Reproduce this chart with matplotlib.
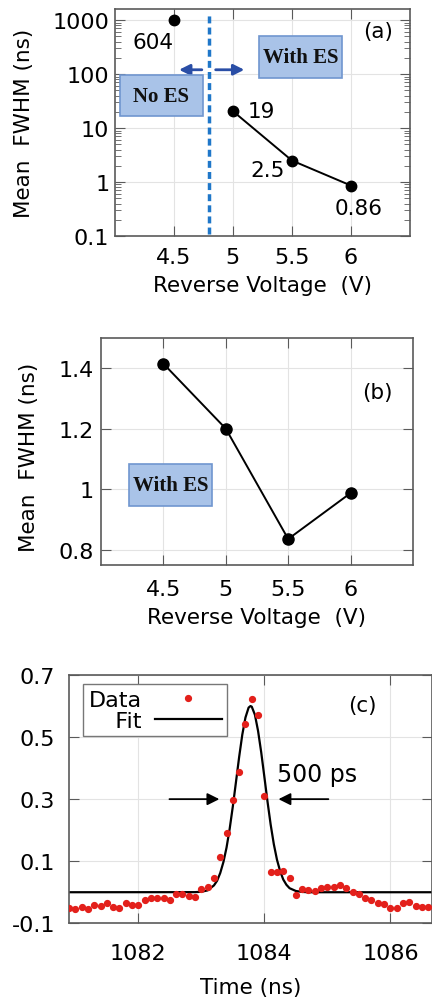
import numpy as np
import matplotlib
matplotlib.use("Agg")
import matplotlib.pyplot as plt
from matplotlib.patches import Rectangle

# panel (a): mean FWHM vs reverse voltage (log axis)
volt_noes = [4.5]
fwhm_noes = [1000]
volt_es = [5.0, 5.5, 6.0]
fwhm_es = [20.5, 2.5, 0.86]
labels_a = ["604", "19", "2.5", "0.86"]

# panel (b): mean FWHM with ES
volt_b = [4.5, 5.0, 5.5, 6.0]
fwhm_b = [1.415, 1.2, 0.835, 0.987]

# panel (c): measured pulse and fit
t_data = [1080.9, 1081.0, 1081.1, 1081.2, 1081.3, 1081.4, 1081.5, 1081.6, 1081.7,
          1081.8, 1081.9, 1082.0, 1082.1, 1082.2, 1082.3, 1082.4, 1082.5, 1082.6,
          1082.7, 1082.8, 1082.9, 1083.0, 1083.1, 1083.2, 1083.3, 1083.4, 1083.5,
          1083.6, 1083.7, 1083.8, 1083.9, 1084.0, 1084.1, 1084.2, 1084.3, 1084.4,
          1084.5, 1084.6, 1084.7, 1084.8, 1084.9, 1085.0, 1085.1, 1085.2, 1085.3,
          1085.4, 1085.5, 1085.6, 1085.7, 1085.8, 1085.9, 1086.0, 1086.1, 1086.2,
          1086.3, 1086.4, 1086.5, 1086.6]
v_data = [-0.052, -0.054, -0.048, -0.054, -0.040, -0.045, -0.034, -0.048, -0.051,
          -0.036, -0.041, -0.041, -0.025, -0.017, -0.017, -0.017, -0.025, -0.005,
          -0.005, -0.011, -0.014, 0.011, 0.018, 0.047, 0.113, 0.192, 0.296,
          0.389, 0.543, 0.622, 0.572, 0.309, 0.066, 0.066, 0.069, 0.047,
          -0.009, 0.011, 0.008, 0.004, 0.013, 0.017, 0.018, 0.024, 0.015,
          0.002, -0.007, -0.019, -0.024, -0.036, -0.038, -0.050, -0.050, -0.034,
          -0.030, -0.043, -0.048, -0.048]
t_fit = [1080.9, 1082.9, 1083.0, 1083.1, 1083.2, 1083.25, 1083.3, 1083.35, 1083.4,
         1083.45, 1083.5, 1083.55, 1083.6, 1083.65, 1083.7, 1083.75, 1083.78, 1083.8,
         1083.85, 1083.9, 1083.95, 1084.0, 1084.05, 1084.1, 1084.15, 1084.2, 1084.25,
         1084.3, 1084.35, 1084.4, 1084.5, 1084.6, 1084.7, 1086.8]
v_fit = [0.0, 0.0003, 0.0015, 0.006, 0.022, 0.037, 0.062, 0.097, 0.144,
         0.205, 0.277, 0.356, 0.436, 0.508, 0.563, 0.595, 0.600, 0.598,
         0.572, 0.520, 0.451, 0.372, 0.292, 0.218, 0.155, 0.105, 0.068,
         0.041, 0.024, 0.013, 0.004, 0.001, 0.0, 0.0]

frame = "#5a5a5a"
box_fc = "#a9c3e8"
box_ec = "#7096cf"
lab_fs = 15.5
tick_fs = 16


def style(ax, pad):
    for s in ax.spines.values():
        s.set_color(frame)
        s.set_linewidth(1.2)
    ax.tick_params(which="both", direction="in", top=True, right=True,
                   color=frame, labelsize=tick_fs, pad=pad)
    ax.tick_params(which="major", length=7)
    ax.tick_params(which="minor", length=4)
    ax.grid(True, which="major", color="#e3e3e3", lw=0.8)
    ax.set_axisbelow(True)


def es_box(ax, x0, y0, w, h, text):
    ax.add_patch(Rectangle((x0, y0), w, h, transform=ax.transAxes,
                           facecolor=box_fc, edgecolor=box_ec, lw=1.2, zorder=3))
    ax.text(x0 + w / 2, y0 + h / 2, text, transform=ax.transAxes,
            ha="center", va="center", fontsize=15, fontweight="bold",
            family="Liberation Serif", color="#111111", zorder=4)


fig = plt.figure(figsize=(4.32, 10.03), dpi=100)

# ---- (a)
ax1 = fig.add_axes([0.266, 0.7637, 0.683, 0.2263])
ax1.set_yscale("log")
ax1.plot(volt_noes, fwhm_noes, "o", color="black", ms=7.5)
ax1.plot(volt_es, fwhm_es, "o-", color="black", ms=7.5, lw=1.4)
ax1.set_xlim(4.0, 6.5)
ax1.set_ylim(0.1, 1600)
ax1.set_xticks([4.5, 5, 5.5, 6])
ax1.set_xticklabels(["4.5", "5", "5.5", "6"])
ax1.set_yticks([0.1, 1, 10, 100, 1000])
ax1.set_yticklabels(["0.1", "1", "10", "100", "1000"])
style(ax1, 4)
ax1.tick_params(axis="x", pad=8)
ax1.axvline(4.8, ymin=0.01, ymax=0.98, color="#1f77c9", lw=2.5, ls=(0, (2, 1.2)), zorder=2)
arr = dict(arrowstyle="-|>", color="#2a4ea6", lw=2, mutation_scale=16)
ax1.annotate("", xy=(4.52, 120), xytext=(4.76, 120), arrowprops=arr)
ax1.annotate("", xy=(5.12, 120), xytext=(4.83, 120), arrowprops=arr)
es_box(ax1, 0.017, 0.529, 0.281, 0.18, "No ES")
es_box(ax1, 0.488, 0.696, 0.281, 0.185, "With ES")
xs_a = volt_noes + volt_es
ys_a = fwhm_noes + fwhm_es
offs = [(-21, -22), (28, 0), (-24, -9), (8, -22)]
for x, y, lab, o in zip(xs_a, ys_a, labels_a, offs):
    ax1.annotate(lab, (x, y), xytext=o, textcoords="offset pixels",
                 ha="center", va="center", fontsize=lab_fs)
ax1.text(0.892, 0.903, "(a)", transform=ax1.transAxes, ha="center", va="center", fontsize=lab_fs)
ax1.set_xlabel("Reverse Voltage  (V)", fontsize=lab_fs)
ax1.set_ylabel("Mean  FWHM (ns)", fontsize=lab_fs)
ax1.xaxis.set_label_coords(0.5, -0.17)
ax1.yaxis.set_label_coords(-0.274, 0.5)

# ---- (b)
ax2 = fig.add_axes([0.2338, 0.436, 0.7222, 0.226])
ax2.plot(volt_b, fwhm_b, "o-", color="black", ms=8, lw=1.4)
ax2.set_xlim(4.0, 6.5)
ax2.set_ylim(0.75, 1.5)
ax2.set_xticks([4.5, 5, 5.5, 6])
ax2.set_xticklabels(["4.5", "5", "5.5", "6"])
ax2.set_yticks([0.8, 1.0, 1.2, 1.4])
ax2.set_yticklabels(["0.8", "1", "1.2", "1.4"])
style(ax2, 5)
ax2.tick_params(axis="x", pad=10)
es_box(ax2, 0.09, 0.259, 0.266, 0.185, "With ES")
ax2.text(0.885, 0.762, "(b)", transform=ax2.transAxes, ha="center", va="center", fontsize=lab_fs)
ax2.set_xlabel("Reverse Voltage  (V)", fontsize=lab_fs)
ax2.set_ylabel("Mean  FWHM (ns)", fontsize=lab_fs)
ax2.xaxis.set_label_coords(0.5, -0.187)
ax2.yaxis.set_label_coords(-0.199, 0.48)

# ---- (c)
ax3 = fig.add_axes([0.1597, 0.0785, 0.8403, 0.2475])
ax3.plot(t_data, v_data, "o", color="#e3201b", ms=4.2, ls="none", label="Data", zorder=3)
ax3.plot(t_fit, v_fit, "-", color="black", lw=1.6, label="   Fit", zorder=2)
ax3.set_xlim(1080.9, 1086.66)
ax3.set_ylim(-0.1, 0.7)
ax3.set_xticks([1082, 1084, 1086])
ax3.set_yticks([-0.1, 0.1, 0.3, 0.5, 0.7])
ax3.set_yticklabels(["-0.1", "0.1", "0.3", "0.5", "0.7"])
style(ax3, 10)
ax3.tick_params(axis="x", pad=14)
ha = dict(arrowstyle="-|>", color="black", lw=1.3, mutation_scale=18)
ax3.annotate("", xy=(1083.33, 0.3), xytext=(1082.45, 0.3), arrowprops=ha)
ax3.annotate("", xy=(1084.18, 0.3), xytext=(1085.06, 0.3), arrowprops=ha)
ax3.text(1084.2, 0.38, "500 ps", ha="left", va="center", fontsize=17)
ax3.text(0.807, 0.879, "(c)", transform=ax3.transAxes, ha="center", va="center", fontsize=lab_fs)
leg = ax3.legend(loc="upper left", bbox_to_anchor=(0.0386, 0.963), markerfirst=False,
                 fontsize=tick_fs, handlelength=3.0, handletextpad=0.6,
                 labelspacing=0.05, borderpad=0.25, borderaxespad=0,
                 fancybox=False, framealpha=1, edgecolor="#777777")
leg.get_frame().set_linewidth(1.0)
ax3.set_xlabel("Time (ns)", fontsize=lab_fs)
ax3.xaxis.set_label_coords(0.5, -0.216)

fig.savefig("out.png", dpi=100)
